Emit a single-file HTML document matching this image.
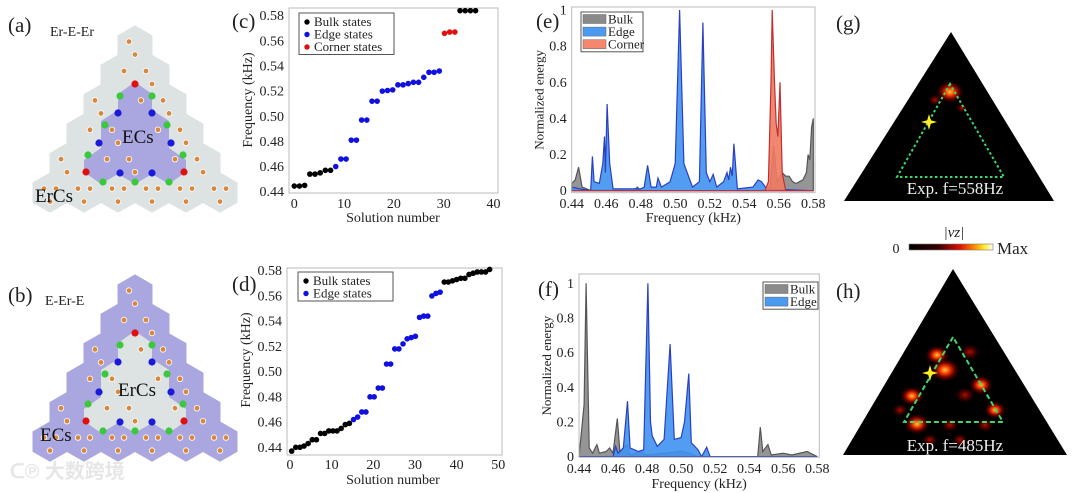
<!DOCTYPE html>
<html><head><meta charset="utf-8">
<style>
html,body{margin:0;padding:0;background:#fff;}
svg{display:block;font-family:"Liberation Serif","Noto Serif CJK SC",serif;}
</style></head>
<body>
<svg id="fig" width="1080" height="493" viewBox="0 0 1080 493" xmlns="http://www.w3.org/2000/svg">
<defs>
<linearGradient id="cbar" x1="0" x2="1" y1="0" y2="0">
<stop offset="0" stop-color="#000"/><stop offset="0.35" stop-color="#3a0000"/><stop offset="0.6" stop-color="#d81000"/><stop offset="0.78" stop-color="#ff8c00"/><stop offset="0.9" stop-color="#ffee30"/><stop offset="1" stop-color="#ffffff"/>
</linearGradient>
<radialGradient id="blob"><stop offset="0" stop-color="#ffd040"/><stop offset="0.3" stop-color="#ff4000"/><stop offset="0.65" stop-color="#8a0000" stop-opacity="0.7"/><stop offset="1" stop-color="#300000" stop-opacity="0"/></radialGradient>
<radialGradient id="blobw"><stop offset="0" stop-color="#b01000"/><stop offset="0.6" stop-color="#5a0000" stop-opacity="0.6"/><stop offset="1" stop-color="#200000" stop-opacity="0"/></radialGradient>
</defs>
<g id="layer"></g>
</svg>
<script>
// ---- Panel (c) data ----
const cBulkLoIdx = [0,1,2,3,4,5,6,7];
const cBulkLoVal = [0.4445,0.4445,0.445,0.454,0.454,0.455,0.457,0.457];
const cEdgeIdx = [8,9,10,11,12,13,14,15,16,17,18,19,20,21,22,23,24,25,26,27,28];
const cEdgeVal = [0.460,0.466,0.466,0.481,0.481,0.497,0.497,0.512,0.512,0.520,0.5205,0.521,0.525,0.525,0.526,0.527,0.527,0.531,0.535,0.535,0.536];
const cCornerIdx = [29,30,31];
const cCornerVal = [0.566,0.567,0.567];
const cBulkHiIdx = [32,33,34,35];
const cBulkHiVal = [0.584,0.584,0.584,0.584];
// ---- Panel (d) data ----
const dBulkLoVal = [0.437,0.440,0.440,0.441,0.443,0.446,0.446,0.451,0.451,0.453,0.453,0.453,0.455,0.458,0.459];
const dEdgeVal = [0.462,0.464,0.468,0.468,0.480,0.480,0.487,0.487,0.506,0.506,0.518,0.518,0.522,0.526,0.527,0.528,0.543,0.544,0.544,0.560,0.562,0.563];
const dBulkHiVal = [0.571,0.571,0.572,0.573,0.574,0.574,0.577,0.578,0.579,0.579,0.579,0.581];
const freqTicks = [0.44,0.46,0.48,0.50,0.52,0.54,0.56,0.58];
const freqTickLabels = ["0.44","0.46","0.48","0.50","0.52","0.54","0.56","0.58"];
const energyTicks = [0,0.2,0.4,0.6,0.8,1];
const energyTickLabels = ["0","0.2","0.4","0.6","0.8","1"];
// ---- Panel (e) spectra ----
const eBulkF = [0.44,0.442,0.444,0.446,0.45,0.476,0.478,0.48,0.553,0.555,0.557,0.559,0.562,0.564,0.566,0.568,0.570,0.572,0.574,0.576,0.577,0.578,0.579,0.58];
const eBulkV = [0.04,0.06,0.13,0.02,0.005,0,0.02,0,0,0.03,0.25,0.05,0.1,0.08,0.08,0.05,0.04,0.05,0.06,0.1,0.2,0.17,0.35,0.4];
const eEdgeF = [0.44,0.445,0.451,0.452,0.453,0.456,0.458,0.459,0.4595,0.4605,0.462,0.464,0.47,0.48,0.482,0.484,0.486,0.489,0.490,0.492,0.497,0.500,0.5025,0.505,0.51,0.514,0.516,0.518,0.520,0.522,0.524,0.528,0.530,0.531,0.532,0.533,0.534,0.536,0.545,0.548,0.550,0.553,0.58];
const eEdgeV = [0.02,0.01,0,0.19,0.05,0.04,0.15,0.3,0.1,0.48,0.15,0.01,0.01,0.01,0.02,0.14,0.02,0.02,0.07,0.02,0.05,0.15,1.0,0.15,0.02,0.05,0.93,0.1,0.05,0.09,0.02,0.05,0.1,0.06,0.13,0.08,0.26,0.01,0.02,0.06,0.05,0.01,0];
const eCornerF = [0.44,0.552,0.554,0.5555,0.5562,0.5575,0.5585,0.5595,0.5607,0.562,0.564,0.58];
const eCornerV = [0,0,0.05,0.6,1.0,0.6,0.37,0.3,0.6,0.1,0,0];
// ---- Panel (f) spectra ----
const fBulkF = [0.44,0.443,0.4442,0.446,0.448,0.4505,0.452,0.456,0.458,0.46,0.4625,0.464,0.468,0.470,0.476,0.48,0.5,0.505,0.51,0.545,0.5465,0.548,0.551,0.553,0.56,0.565,0.574,0.58];
const fBulkV = [0,0.3,1.0,0.05,0.02,0.07,0.02,0.03,0.05,0.02,0.22,0.03,0.07,0.01,0.03,0.01,0.03,0.02,0,0,0.17,0.03,0.07,0.01,0.02,0.01,0.03,0];
const fEdgeF = [0.44,0.46,0.4615,0.463,0.466,0.4685,0.470,0.475,0.478,0.4805,0.482,0.483,0.486,0.49,0.4935,0.496,0.5,0.502,0.5045,0.506,0.51,0.512,0.515,0.517,0.58];
const fEdgeV = [0,0,0.06,0.02,0.05,0.32,0.05,0.03,0.04,1.0,0.2,0.12,0.06,0.1,0.65,0.1,0.11,0.2,0.48,0.08,0.04,0,0.055,0,0];

const NS = "http://www.w3.org/2000/svg";
const root = document.getElementById('layer');
function mk(tag, attrs, parent){
  const el = document.createElementNS(NS, tag);
  for (const k in attrs) el.setAttribute(k, attrs[k]);
  (parent||root).appendChild(el);
  return el;
}
function txt(x,y,s,size,anchor,parent,extra){
  const t = mk('text',Object.assign({x:x,y:y,'font-size':size,'text-anchor':anchor||'start',fill:'#222'},extra||{}),parent);
  t.textContent = s;
  return t;
}

// ================= Lattice panels (a),(b) =================
function hexPts(cx,cy,r){
  const p=[];
  for(let i=0;i<6;i++){const a=Math.PI/180*(60*i-90);p.push((cx+r*Math.cos(a)).toFixed(1)+','+(cy+r*Math.sin(a)).toFixed(1));}
  return p.join(' ');
}
function lattice(oy, outerCol, innerCol, tag){
  const g = mk('g',{});
  
  
  const w=34, r=19.6, rowH=29.4, cx0=135, cy0=oy+19.6;
  for(let k=0;k<6;k++){
    for(let j=0;j<=k;j++){
      const cx=cx0-k*w/2+j*w, cy=cy0+k*rowH;
      const h = mk('polygon',{points:hexPts(cx,cy,r+0.6),fill:outerCol},g);
      
      
    }
  }
  const d = oy-26;
  const inner=[[135,82],[152,94],[152,110],[169,121],[169,148],[186,160],[186,172],[169,184],[152,174],[135,184],[118,174],[101,184],[84,172],[84,160],[101,148],[101,121],[118,110],[118,94]];
  const ip = mk('polygon',{points:inner.map(p=>p[0]+','+(p[1]+d)).join(' '),fill:innerCol},g);
  
  
  for(let k=0;k<6;k++){
    for(let j=0;j<=k;j++){
      const cx=cx0-k*w/2+j*w, cy=cy0+k*rowH;
      [[-6,-4],[6,-4],[0,9]].forEach((o,ii)=>{
        if((k+j+ii)%2===0 || k===5){
          const c = mk('circle',{cx:cx+o[0],cy:cy+o[1],r:2.8,fill:'#d8873d',stroke:'#fff','stroke-width':0.8},g);
          
          
        }
      });
    }
  }
  const red=[[135,84],[86,172],[184,172]];
  const blue=[[118,113],[152,113],[99,143],[171,143],[120,173],[152,173]];
  const green=[[120,96],[152,96],[105,125],[167,125],[88,155],[183,155],[103,182],[135,182],[169,182]];
  [[red,'#e01010','corner-dot'],[blue,'#1a1ad8','edge-dot'],[green,'#3cc83c','interface-dot']].forEach(set=>{
    set[0].forEach(p=>{
      const c = mk('circle',{cx:p[0],cy:p[1]+d,r:3.6,fill:set[1]},g);
      
      
    });
  });
}
lattice(26,'#dde3e3','#a9a6e0','panel-a');
lattice(275,'#a9a6e0','#dde3e3','panel-b');

let t;
t = txt(8,32,'(a)',21);


t = txt(50,36,'Er-E-Er',14);


t = txt(122,143,'ECs',19,'start',null,{fill:'#111'});


t = txt(35,202,'ErCs',19,'start',null,{fill:'#111'});


t = txt(8,302,'(b)',21);


t = txt(45,305,'E-Er-E',14);


t = txt(118,396,'ErCs',19,'start',null,{fill:'#111'});


t = txt(40,441,'ECs',19,'start',null,{fill:'#111'});


t = txt(10,478,'ᑕ℗ 大数跨境',20,'start',null,{fill:'#e6e6e6','font-family':'"Liberation Sans","Noto Sans CJK SC",sans-serif','font-weight':'bold'});



function frame(x0,y0,x1,y1,name){
  const r = mk('rect',{x:x0,y:y0,width:x1-x0,height:y1-y0,fill:'none',stroke:'#bbb','stroke-width':1});
  
  
}

// ================= Panel (c) =================
const cx = v => 294.3 + v*4.98;
const cy = f => 15.7 + (0.58-f)/0.14*176;
frame(289,8,498,193,'panel-c-plot-area');
const cYt=[0.44,0.46,0.48,0.50,0.52,0.54,0.56,0.58];
cYt.forEach((v,i)=>{
  t = txt(284,cy(v)+4.5,freqTickLabels[i],14,'end');
  
  
});
const cXt=[0,10,20,30,40];
cXt.forEach(v=>{
  t = txt(cx(v),208,String(v),14,'middle');
  
  
});
function dots(idx,vals,col,xs,ys,name,stretch){
  vals.forEach((v,i)=>{
    const c = mk('circle',{cx:xs(idx[i]*stretch),cy:ys(v),r:2.8,fill:col});
    
    
  });
}
dots(cBulkLoIdx,cBulkLoVal,'#000',cx,cy,'c-bulk-point',1.04);
dots(cEdgeIdx,cEdgeVal,'#1010e0',cx,cy,'c-edge-point',1.04);
dots(cCornerIdx,cCornerVal,'#e01010',cx,cy,'c-corner-point',1.04);
dots(cBulkHiIdx,cBulkHiVal,'#000',cx,cy,'c-bulk-point',1.04);
t = txt(232,28,'(c)',21);


t = txt(393,222,'Solution number',14,'middle');


t = txt(0,0,'Frequency (kHz)',14,'middle',null,{transform:'translate(252,100) rotate(-90)'});


function legendDots(x0,y0,w,items,name){
  const g = mk('g',{});
  
  
  const b = mk('rect',{x:x0,y:y0,width:w,height:items.length*12.5+4,fill:'#fff',stroke:'#555','stroke-width':1},g);
  
  
  items.forEach((it,i)=>{
    const c = mk('circle',{cx:x0+8,cy:y0+9+i*12.5,r:2.7,fill:it[1]},g);
    
    
    const tt = txt(x0+15,y0+13+i*12.5,it[0],13,'start',g);
    
    
  });
}
legendDots(299,13,95,[['Bulk states','#000'],['Edge states','#1010e0'],['Corner states','#e01010']],'c-legend');

// ================= Panel (d) =================
const dx = v => 290 + v*4.166;
const dy = f => 270.7 + (0.58-f)/0.14*176.6;
frame(287,268,502,455,'panel-d-plot-area');
cYt.forEach((v,i)=>{
  t = txt(282,dy(v)+4.5,freqTickLabels[i],14,'end');
  
  
});
[0,10,20,30,40,50].forEach(v=>{
  t = txt(dx(v),469,String(v),14,'middle');
  
  
});
const dAll = [[dBulkLoVal,'#000','d-bulk-point'],[dEdgeVal,'#1010e0','d-edge-point'],[dBulkHiVal,'#000','d-bulk-point']];
let di=0;
dAll.forEach(s=>{
  s[0].forEach(v=>{
    const c = mk('circle',{cx:dx(di*0.99+0.4),cy:dy(v),r:2.8,fill:s[1]});
    
    
    di++;
  });
});
t = txt(232,291,'(d)',21);


t = txt(393,484,'Solution number',14,'middle');


t = txt(0,0,'Frequency (kHz)',14,'middle',null,{transform:'translate(250,360) rotate(-90)'});


legendDots(298,272,95,[['Bulk states','#000'],['Edge states','#1010e0']],'d-legend');

// ================= Spectra (e),(f) =================
function spectrum(F,V,xs,ys,fill,stroke,name){
  let d='M'+xs(F[0]).toFixed(1)+','+ys(0).toFixed(1);
  F.forEach((f,i)=>{d+=' L'+xs(f).toFixed(1)+','+ys(V[i]).toFixed(1);});
  d+=' L'+xs(F[F.length-1]).toFixed(1)+','+ys(0).toFixed(1)+' Z';
  const p = mk('path',{d:d,fill:fill,stroke:stroke,'stroke-width':1.2,'fill-opacity':0.9});
  
  
}
function specAxes(xs,ys,x0,y0,x1,y1,pre,tickY,labelY){
  frame(x0,y0,x1,y1,pre+'-plot-area');
  freqTicks.forEach((v,i)=>{
    const tt = txt(xs(v),tickY,freqTickLabels[i],14,'middle');
    
    
  });
  energyTicks.forEach((v,i)=>{
    const tt = txt(x0-5,ys(v)+4.5,energyTickLabels[i],14,'end');
    
    
  });
  const xt = txt((x0+x1)/2,labelY,'Frequency (kHz)',14,'middle');
  
  
  const yt = txt(0,0,'Normalized energy',13,'middle',null,{transform:'translate('+(x0-28)+','+((y0+y1)/2)+') rotate(-90)'});
  
  
}
function legendSw(x0,y0,w,items,name){
  const g = mk('g',{});
  
  
  const b = mk('rect',{x:x0,y:y0,width:w,height:items.length*12.6+2,fill:'#fff',stroke:'#555','stroke-width':1},g);
  
  
  items.forEach((it,i)=>{
    const s = mk('rect',{x:x0+2,y:y0+2.5+i*12.6,width:23,height:9,fill:it[1],stroke:'#666','stroke-width':0.5},g);
    
    
    const tt = txt(x0+27,y0+11.5+i*12.6,it[0],13,'start',g);
    
    
  });
}
const ex = f => 571.7 + (f-0.44)/0.14*241.6;
const ey = v => 190.7 - v*180.7;
spectrum(eBulkF,eBulkV,ex,ey,'#8a8a8a','#555','e-bulk-area');
spectrum(eEdgeF,eEdgeV,ex,ey,'#3f92f0','#2a40c0','e-edge-area');
spectrum(eCornerF,eCornerV,ex,ey,'#f07a60','#c03030','e-corner-area');
specAxes(ex,ey,571.7,7,815,192.7,'e',208,222);
legendSw(581,12,62,[['Bulk','#8a8a8a'],['Edge','#4a9af0'],['Corner','#f5876e']],'e-legend');
t = txt(536,28,'(e)',21);



const fx = f => 579 + (f-0.44)/0.14*238.3;
const fy = v => 456.7 - v*173.4;
spectrum(fBulkF,fBulkV,fx,fy,'#8a8a8a','#555','f-bulk-area');
spectrum(fEdgeF,fEdgeV,fx,fy,'#3f92f0','#2a40c0','f-edge-area');
specAxes(fx,fy,579,274,819.3,457.3,'f',473,488);
legendSw(763,282,55,[['Bulk','#8a8a8a'],['Edge','#4a9af0']],'f-legend');
t = txt(538,296,'(f)',21);



// ================= Field maps (g),(h) =================
function fieldMap(apex,bl,br,ga,gbl,gbr,star,blobs,label,labelY,name,dash){
  const g = mk('g',{});
  
  
  const tri = mk('polygon',{points:[apex,bl,br].map(p=>p.join(',')).join(' '),fill:'#000'},g);
  
  
  blobs.forEach(b=>{
    const e = mk('ellipse',{cx:b[0],cy:b[1],rx:b[2],ry:b[2]*0.8,fill:b[3]?'url(#blob)':'url(#blobw)'},g);
    
    
  });
  const gt = mk('polygon',{points:[ga,gbl,gbr].map(p=>p.join(',')).join(' '),fill:'none',stroke:'#3ed86a','stroke-width':2,'stroke-dasharray':dash},g);
  
  
  const s=star, r1=8, r2=2.5; const pts=[];
  for(let i=0;i<8;i++){const a=Math.PI/4*i-Math.PI/2;const r=i%2?r2:r1;pts.push((s[0]+r*Math.cos(a)).toFixed(1)+','+(s[1]+r*Math.sin(a)).toFixed(1));}
  const st = mk('polygon',{points:pts.join(' '),fill:'#ffee22'},g);
  
  
  const tt = txt(955,labelY,label,17,'middle',g,{fill:'#eee'});
  
  
}
fieldMap([951,32],[844,201],[1054,201],[950,84],[897,177],[1004,177],[929,122],
  [[950,92,14,1],[935,100,7,0],[962,108,6,0]],'Exp.  f=558Hz',194,'panel-g-field-map','2.5,2.5');
fieldMap([953,269],[843,455],[1067,455],[953,337],[904,422],[1003,422],[930,373],
  [[937,355,12,1],[945,370,15,1],[912,396,12,1],[981,385,12,1],[995,410,11,1],[917,424,13,1],[950,425,9,0],[985,425,9,0],[930,440,8,0],[960,440,8,0],[900,410,8,0],[965,395,10,0],[970,352,10,0]],'Exp.  f=485Hz',451,'panel-h-field-map','5,3');
t = txt(836,30,'(g)',21);


t = txt(836,298,'(h)',21);


const cb = mk('rect',{x:909,y:244,width:84,height:6,fill:'url(#cbar)',stroke:'#777','stroke-width':0.6});


t = txt(896,253,'0',14,'middle');


t = txt(997,254,'Max',17,'start');


t = txt(954,237,'|vz|',15,'middle',null,{'font-style':'italic'});


</script>
</body></html>
